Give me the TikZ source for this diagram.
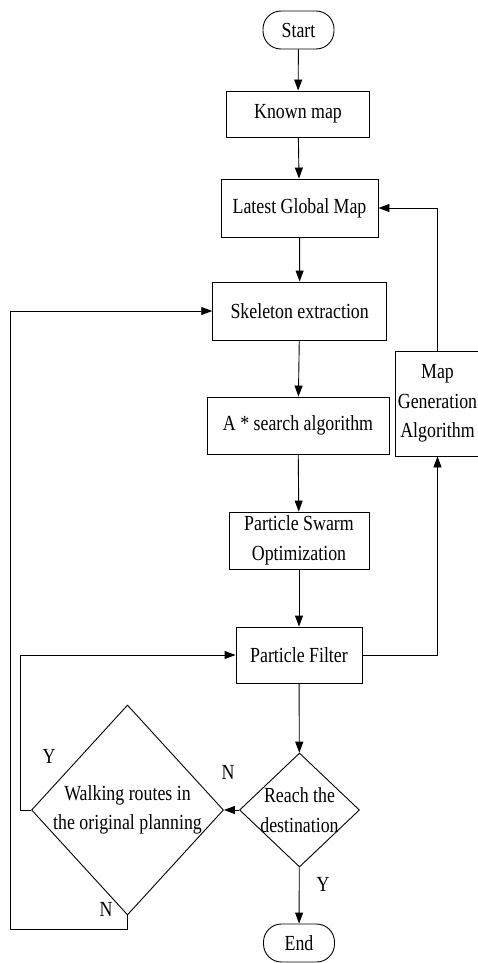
\documentclass[tikz,border=0pt]{standalone}
\usepackage{fontspec}
\setmainfont[FakeStretch=0.83]{Liberation Serif}
\usetikzlibrary{arrows.meta,shapes.geometric}

\begin{document}
\begin{tikzpicture}[x=1pt, y=-1pt, line width=0.9pt,
  every node/.style={font=\fontsize{21.5}{29.5}\selectfont, inner sep=0pt, align=center},
  box/.style={draw, rectangle},
  term/.style={draw, rectangle, rounded corners=18pt, minimum width=71pt, minimum height=38pt},
  dia/.style={draw, diamond, inner sep=0pt},
  flow/.style={-{Triangle[length=11pt,width=8pt]}},
]
\useasboundingbox (0,0) rectangle (477,963);

% process steps
\node[term] (start) at (298.5,30) {Start};
\node[box, minimum width=142.6pt, minimum height=46pt] (known) at (298,114) {Known map};
\node[box, minimum width=157pt, minimum height=58pt] (latest) at (299.5,208) {Latest Global Map};
\node[box, minimum width=174pt, minimum height=58pt] (skel) at (299.7,311) {Skeleton extraction};
\node[box, minimum width=182pt, minimum height=57pt] (astar) at (298,425.5) {A * search algorithm};
\node[box, minimum width=84pt, minimum height=105pt] (mapgen) at (437.5,403.5) {Map\\Generation\\Algorithm};
\node[box, minimum width=140pt, minimum height=57pt] (pso) at (299,540.5) {Particle Swarm\\Optimization};
\node[box, minimum width=126pt, minimum height=56pt] (pf) at (299,655) {Particle Filter};

% decisions
\node[dia, minimum width=120pt, minimum height=114pt] (reach) at (299.5,810) {};
\node (reachtxt) at (reach.center) {Reach the\\destination};
\node[dia, minimum width=192pt, minimum height=210pt] (walk) at (127.5,810) {};
\node (walktxt) at (walk.center) {Walking routes in\\the original planning};

\node[term] (end) at (299,943) {End};

% main flow
\draw[flow] (start) -- (known);
\draw[flow] (known) -- (latest);
\draw[flow] (latest) -- (skel);
\draw[flow] (skel) -- (astar);
\draw[flow] (astar) -- (pso);
\draw[flow] (pso) -- (pf);
\draw[flow] (pf) -- (reach);
\draw[flow] (reach) -- (end);
\draw[flow] (reach.west) -- (walk.east);

% map update loop
\draw[flow] (pf.east) -| (mapgen.south);
\draw[flow] (mapgen.north) |- (latest.east);

% replanning loops
\coordinate (ly) at (20.7,810);
\coordinate (lb) at (10,929);
\draw[flow] (walk.west) -- (ly) |- (pf.west);
\draw[flow] (walk.south) |- (lb) |- (skel.west);

% branch labels
\node (ly1) at (49,756) {Y};
\node (ln1) at (228,772) {N};
\node (ln2) at (106,909) {N};
\node (ly2) at (323,884) {Y};
\end{tikzpicture}
\end{document}
